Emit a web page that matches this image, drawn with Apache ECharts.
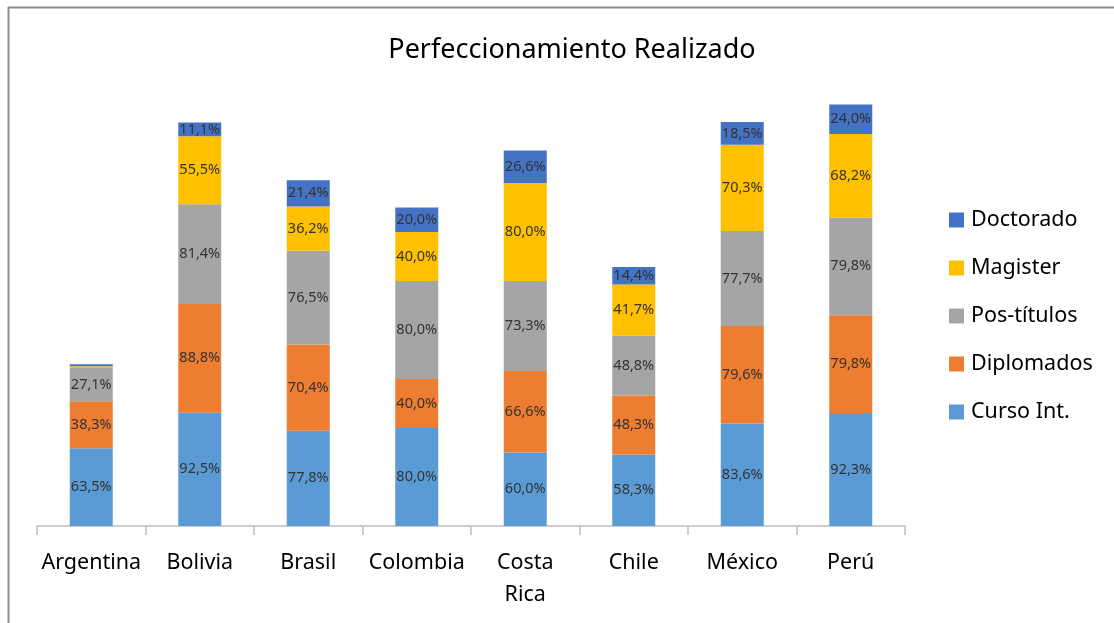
<!DOCTYPE html>
<html><head><meta charset="utf-8">
<script src="https://cdn.jsdelivr.net/npm/echarts@6/dist/echarts.min.js"></script>
<style>html,body{margin:0;padding:0;background:#fff}#c{width:1114px;height:623px}</style>
</head><body><div id="c"></div>
<script>
const categories = ['Argentina','Bolivia','Brasil','Colombia','Costa Rica','Chile','México','Perú'];
const cursoInt   = [63.5, 92.5, 77.8, 80.0, 60.0, 58.3, 83.6, 92.3];
const diplomados = [38.3, 88.8, 70.4, 40.0, 66.6, 48.3, 79.6, 79.8];
const postitulos = [27.1, 81.4, 76.5, 80.0, 73.3, 48.8, 77.7, 79.8];
const magister   = [1.6, 55.5, 36.2, 40.0, 80.0, 41.7, 70.3, 68.2];
const doctorado  = [1.6, 11.1, 21.4, 20.0, 26.6, 14.4, 18.5, 24.0];
const hiddenLabels = {Magister:[0], Doctorado:[0]};

const FONT = 'Noto Sans';
const seriesDefs = [
  ['Curso Int.', cursoInt, '#5B9BD5'],
  ['Diplomados', diplomados, '#ED7D31'],
  ['Pos-títulos', postitulos, '#A5A5A5'],
  ['Magister', magister, '#FFC000'],
  ['Doctorado', doctorado, '#4472C4']
];
const series = seriesDefs.map(([name, vals, color]) => ({
  name, type: 'bar', stack: 'total', barWidth: 43,
  itemStyle: {color},
  label: {
    show: true, position: 'inside', color: '#333333', fontFamily: FONT, fontSize: 14.5,
    formatter: p => (hiddenLabels[name] && hiddenLabels[name].includes(p.dataIndex)) ? '' : p.value.toFixed(1).replace('.', ',') + '%'
  },
  data: vals
}));

const chart = echarts.init(document.getElementById('c'));
chart.setOption({
  animation: false,
  title: {text: 'Perfeccionamiento Realizado', left: 567, textAlign: 'center', top: 32,
    textStyle: {fontFamily: FONT, fontSize: 27, fontWeight: 'normal', color: '#000'}},
  legend: {
    orient: 'vertical', left: 944, top: 204, itemGap: 26, itemWidth: 15, itemHeight: 15,
    icon: 'rect',
    data: ['Doctorado','Magister','Pos-títulos','Diplomados','Curso Int.'],
    textStyle: {fontFamily: FONT, fontSize: 21.5, color: '#000', padding: [0,0,0,2]}
  },
  grid: {left: 37, right: 209, top: 36, bottom: 97, containLabel: false},
  xAxis: {
    type: 'category', data: categories,
    axisLine: {lineStyle: {color: '#BFBFBF', width: 1.5}},
    axisTick: {show: true, length: 9, lineStyle: {color: '#BFBFBF', width: 1.5}},
    axisLabel: {interval: 0, fontFamily: FONT, fontSize: 21.5, color: '#000', margin: 21, lineHeight: 32,
      formatter: v => v.replace(' ', '\n')}
  },
  yAxis: {type: 'value', min: 0, max: 400, show: false, splitLine: {show: false}},
  series,
  graphic: [
    {type: 'line', shape: {x1: 8, y1: 7.5, x2: 1114, y2: 7.5}, style: {stroke: '#8c8c8c', lineWidth: 2}},
    {type: 'line', shape: {x1: 8.5, y1: 7, x2: 8.5, y2: 623}, style: {stroke: '#8c8c8c', lineWidth: 2}}
  ]
});
</script></body></html>
